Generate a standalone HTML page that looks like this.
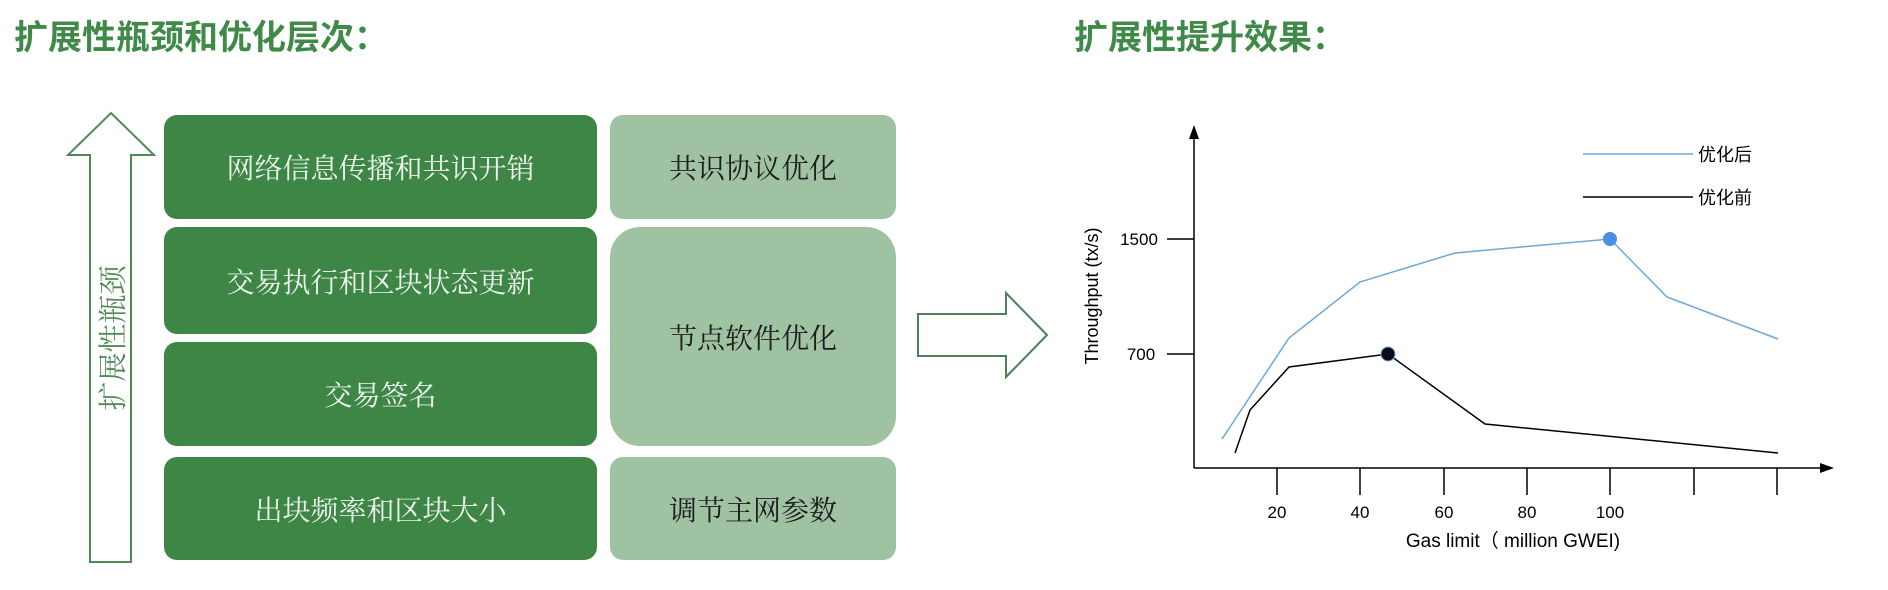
<!DOCTYPE html>
<html><head><meta charset="utf-8"><style>
html,body{margin:0;padding:0;background:#fff;}
body{width:1888px;height:590px;overflow:hidden;position:relative;font-family:"Liberation Sans","Noto Sans CJK SC",sans-serif;}
.t{position:absolute;top:10px;font-size:34px;font-weight:bold;color:#3f8a48;white-space:nowrap;}
.b{position:absolute;display:flex;align-items:center;justify-content:center;font-family:"Noto Serif CJK SC","Noto Sans CJK SC",serif;font-size:28px;white-space:nowrap;}
.d{background:#3d8646;color:#eef5ee;left:164px;width:433px;border-radius:13px;}
.l{background:#9fc3a2;color:#1c1c1c;left:610px;width:286px;border-radius:13px;}
</style></head><body>
<div class="t" style="left:14px;">扩展性瓶颈和优化层次：</div>
<div class="t" style="left:1074px;">扩展性提升效果：</div>

<div class="b d" style="top:115px;height:104px;">网络信息传播和共识开销</div>
<div class="b d" style="top:227px;height:107px;">交易执行和区块状态更新</div>
<div class="b d" style="top:342px;height:104px;">交易签名</div>
<div class="b d" style="top:457px;height:103px;">出块频率和区块大小</div>
<div class="b l" style="top:115px;height:104px;">共识协议优化</div>
<div class="b l" style="top:227px;height:219px;border-radius:30px;">节点软件优化</div>
<div class="b l" style="top:457px;height:103px;">调节主网参数</div>

<svg width="1888" height="590" style="position:absolute;left:0;top:0;" xmlns="http://www.w3.org/2000/svg">
<polygon points="90,562 131,562 131,155 154,155 111,113 68,155 90,155" fill="none" stroke="#4f8a55" stroke-width="2"/>
<text x="0" y="0" transform="translate(123,338) rotate(-90)" text-anchor="middle" font-family="Noto Serif CJK SC, serif" font-size="29" fill="#4f8a55">扩展性瓶颈</text>
<polygon points="918,314 1006,314 1006,293 1047,335 1006,377 1006,356 918,356" fill="none" stroke="#4f7f55" stroke-width="2"/>

<g stroke="#000" stroke-width="1.5" fill="none">
<line x1="1194" y1="132" x2="1194" y2="468"/>
<line x1="1194" y1="468" x2="1826" y2="468"/>
<line x1="1277" y1="468" x2="1277" y2="495"/>
<line x1="1360" y1="468" x2="1360" y2="495"/>
<line x1="1444" y1="468" x2="1444" y2="495"/>
<line x1="1527" y1="468" x2="1527" y2="495"/>
<line x1="1610" y1="468" x2="1610" y2="495"/>
<line x1="1694" y1="468" x2="1694" y2="495"/>
<line x1="1777" y1="468" x2="1777" y2="495"/>
<line x1="1167" y1="239" x2="1194" y2="239"/>
<line x1="1167" y1="354" x2="1194" y2="354"/>
</g>
<polygon points="1194,125 1189,139 1199,139" fill="#000"/>
<polygon points="1834,468 1820,463 1820,473" fill="#000"/>
<g font-family="Liberation Sans, sans-serif" font-size="17" fill="#000" text-anchor="middle">
<text x="1277" y="518">20</text><text x="1360" y="518">40</text><text x="1444" y="518">60</text><text x="1527" y="518">80</text><text x="1610" y="518">100</text>
<text x="1139" y="245">1500</text><text x="1141" y="360">700</text>
</g>
<text x="1513" y="547" text-anchor="middle" font-family="Liberation Sans, Noto Sans CJK SC, sans-serif" font-size="19">Gas limit（ million GWEI)</text>
<text transform="translate(1098,296) rotate(-90)" text-anchor="middle" font-family="Liberation Sans, sans-serif" font-size="18">Throughput (tx/s)</text>

<line x1="1583" y1="154" x2="1693" y2="154" stroke="#6fa8d6" stroke-width="1.5"/>
<line x1="1583" y1="197" x2="1693" y2="197" stroke="#000" stroke-width="1.5"/>
<text x="1698" y="161" font-family="Noto Sans CJK SC, sans-serif" font-size="18">优化后</text>
<text x="1698" y="204" font-family="Noto Sans CJK SC, sans-serif" font-size="18">优化前</text>

<polyline points="1222,439 1289,338 1360,282 1455,253 1610,239 1667,297 1778,339" fill="none" stroke="#6fa8d6" stroke-width="1.5"/>
<polyline points="1235,453 1250,410 1289,367 1388,354 1485,424 1778,453" fill="none" stroke="#000" stroke-width="1.5"/>
<circle cx="1610" cy="239" r="7" fill="#4a90e2"/>
<circle cx="1388" cy="354" r="7" fill="#0a0a1a" stroke="#6fa8d6" stroke-width="1"/>
</svg>
</body></html>
